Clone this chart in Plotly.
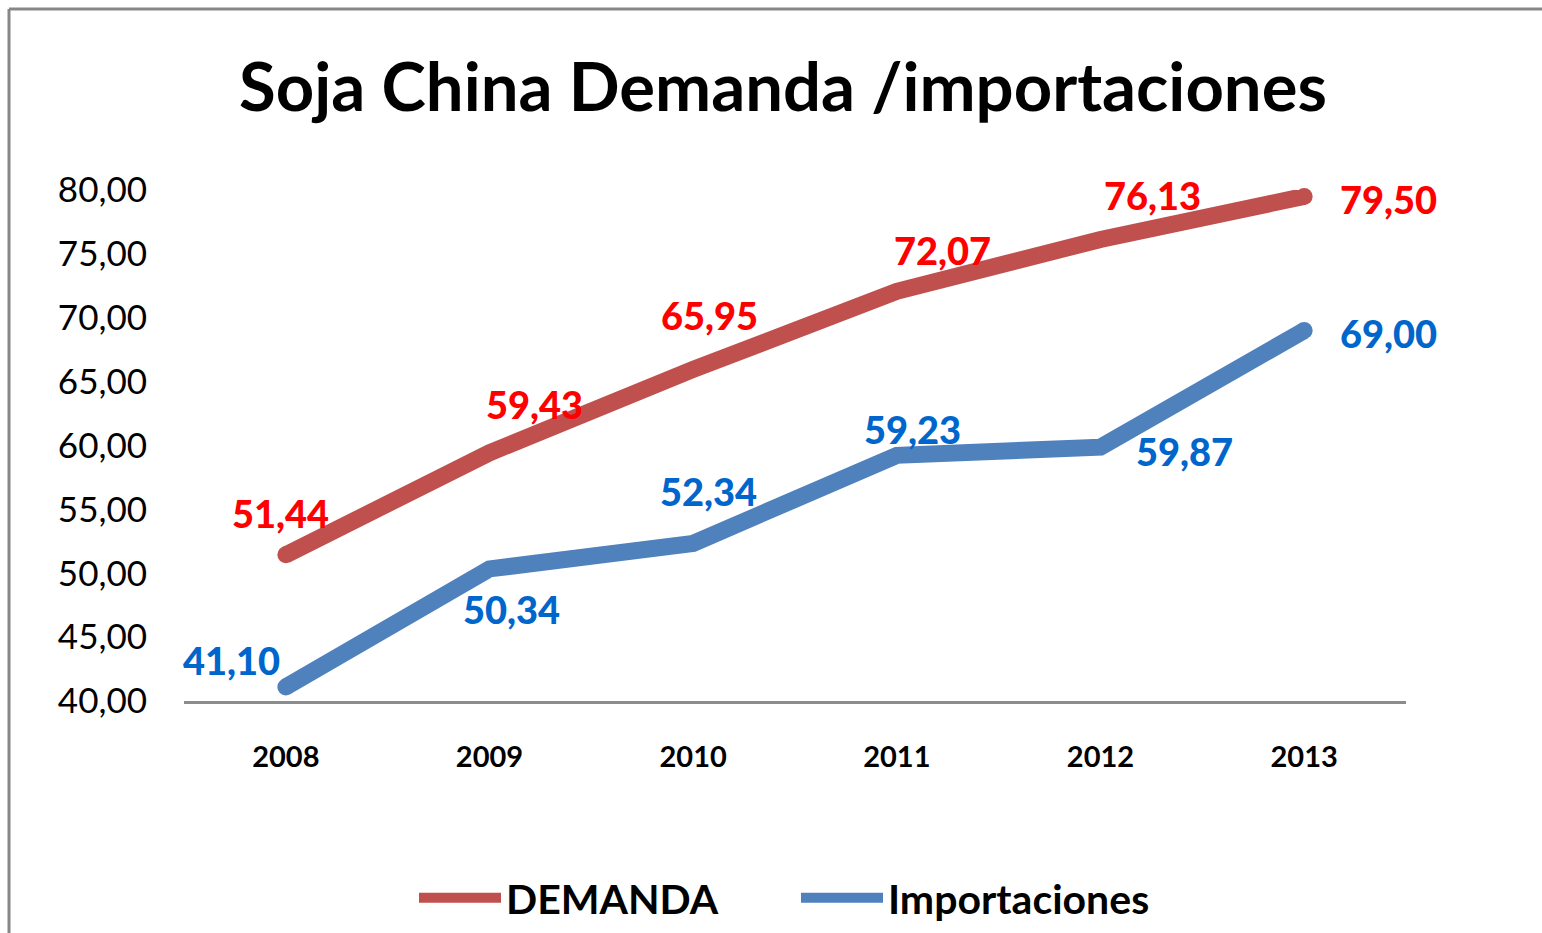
import plotly.graph_objects as go

years = ["2008", "2009", "2010", "2011", "2012", "2013"]
demanda = [51.44, 59.43, 65.95, 72.07, 76.13, 79.50]
importaciones = [41.10, 50.34, 52.34, 59.23, 59.87, 69.00]

# label offsets (px) relative to each point
dem_shift = [(-5, 42), (45, 49), (16, 54), (46, 41), (52, 44), (84, -3)]
imp_shift = [(-54, 27), (22, -40), (15, 52), (16, 26), (84, -4), (84, -2)]

RED = "#C0504D"
BLUE = "#4F81BD"
FONT = "Lato"
LW = 17


def fmt(v):
    return f"{v:.2f}".replace(".", ",")


# round caps only at the two ends of each line
cap_sizes = [LW] + [0] * (len(years) - 2) + [LW]

fig = go.Figure()
for name, vals, col in [("DEMANDA", demanda, RED), ("Importaciones", importaciones, BLUE)]:
    fig.add_trace(go.Scatter(
        x=years, y=vals, name=name, mode="lines",
        line=dict(color=col, width=LW), cliponaxis=False,
    ))
    fig.add_trace(go.Scatter(
        x=years, y=vals, mode="markers", showlegend=False, hoverinfo="skip",
        marker=dict(color=col, size=cap_sizes, opacity=1, line=dict(width=0)),
        cliponaxis=False,
    ))

annotations = []
for series, shifts, col in [(demanda, dem_shift, "#FF0000"), (importaciones, imp_shift, "#0066CC")]:
    for i, (v, (dx, dy)) in enumerate(zip(series, shifts)):
        annotations.append(dict(
            x=i, y=v, xref="x", yref="y", text=fmt(v),
            showarrow=False, xshift=dx, yshift=dy,
            font=dict(family=FONT, size=38, color=col, weight=900),
        ))

# chart frame (left and top edges)
frame = [
    dict(type="line", xref="paper", yref="paper", x0=-0.1432, x1=-0.1432, y0=1.354, y1=-0.5,
         line=dict(color="#878787", width=3)),
    dict(type="line", xref="paper", yref="paper", x0=-0.1432, x1=1.2, y0=1.354, y1=1.354,
         line=dict(color="#878787", width=3)),
]

fig.update_layout(
    width=1542, height=933,
    margin=dict(l=184, r=136, t=190, b=232),
    paper_bgcolor="white", plot_bgcolor="white",
    separators=",.",
    title=dict(text="<b>Soja China Demanda /importaciones</b>",
               x=783 / 1542, xanchor="center", y=1 - 88 / 933, yanchor="middle",
               font=dict(family=FONT, size=67, color="black")),
    xaxis=dict(type="category", range=[-0.5, 5.5], showgrid=False,
               showline=True, linecolor="#8C8C8C", linewidth=3,
               ticks="", ticklabelstandoff=28,
               tickfont=dict(family=FONT, size=29, color="black", weight="bold")),
    yaxis=dict(range=[40, 80], dtick=5, tickformat=".2f", showgrid=False,
               zeroline=False, showline=False, ticks="", ticklabelstandoff=36,
               tickfont=dict(family=FONT, size=35, color="black")),
    legend=dict(orientation="h", xref="container", yref="container",
                x=414 / 1542, xanchor="left", y=1 - 898 / 933, yanchor="middle",
                font=dict(family=FONT, size=41, color="black", weight="bold"),
                itemwidth=82, entrywidth=285),
    annotations=annotations,
    shapes=frame,
    showlegend=True,
)

fig.write_html("out.html")
